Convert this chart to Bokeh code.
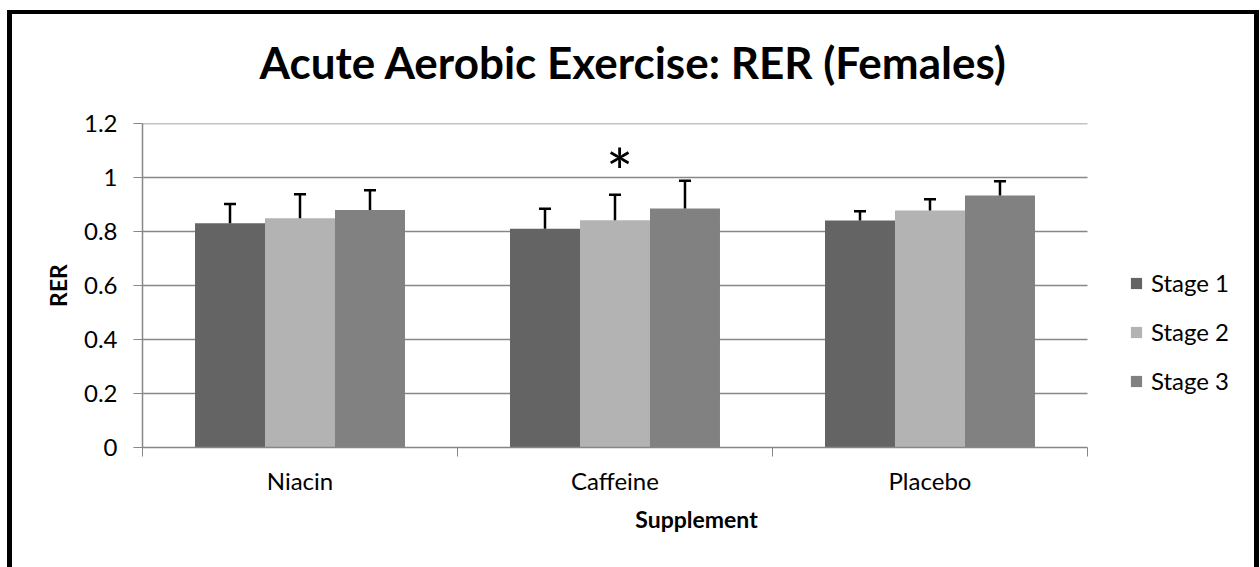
from bokeh.plotting import figure
from bokeh.models import (ColumnDataSource, FixedTicker, CustomJSTickFormatter, Legend, LegendItem,
                          Whisker, TeeHead, Title, Range1d)
from bokeh.core.properties import value
from bokeh.embed import file_html
from bokeh.resources import INLINE

# ---- data ----
supplements = ["Niacin", "Caffeine", "Placebo"]
stages = ["Stage 1", "Stage 2", "Stage 3"]
stage1 = [0.831, 0.810, 0.841]
stage2 = [0.849, 0.842, 0.878]
stage3 = [0.880, 0.885, 0.933]
err1 = [0.071, 0.074, 0.034]
err2 = [0.089, 0.094, 0.041]
err3 = [0.073, 0.103, 0.053]
colors = ["#646464", "#b3b3b3", "#818181"]
significant = ["Caffeine"]
y_ticks = [0, 0.2, 0.4, 0.6, 0.8, 1.0, 1.2]

FONT = "Lato"
GRAY = "#878787"
n = len(supplements)
x_end = 3.5175  # frame extends right so the legend fits inside it

p = figure(width=1260, height=567, output_backend="svg", toolbar_location=None,
           x_range=Range1d(0, x_end), y_range=Range1d(0, 1.2),
           min_border_left=142, min_border_right=10, min_border_top=123, min_border_bottom=120,
           tools="")
p.outline_line_color = None
p.background_fill_color = "white"
p.border_fill_color = None
p.styles = {
    "background-color": "white",
    "background-image": "linear-gradient(#000,#000), linear-gradient(#000,#000), linear-gradient(#000,#000)",
    "background-size": "5px 600px, 1252px 4px, 5px 600px",
    "background-position": "7px 10px, 7px 10px, 1254px 10px",
    "background-repeat": "no-repeat",
}

# horizontal gridlines limited to the category span
grid_y = y_ticks[1:]
p.segment(x0=[0] * len(grid_y), x1=[n] * len(grid_y), y0=grid_y, y1=grid_y,
          line_color=GRAY, line_width=1.5, level="underlay")

bar_w = 0.2222
series = [stage1, stage2, stage3]
errs = [err1, err2, err3]
renderers = []
for k, (vals, er) in enumerate(zip(series, errs)):
    xs = [i + 0.5 + (k - 1) * bar_w for i in range(n)]
    src = ColumnDataSource(dict(x=xs, top=vals, upper=[v + e for v, e in zip(vals, er)]))
    r = p.vbar(x="x", top="top", width=bar_w, bottom=0, source=src,
               fill_color=colors[k], line_color=None)
    renderers.append(r)
    w = Whisker(base="x", lower="top", upper="upper", source=src, dimension="height",
                line_color="black", line_width=2.5, lower_head=None,
                upper_head=TeeHead(size=12, line_color="black", line_width=2.5),
                level="annotation")
    p.add_layout(w)

# significance asterisk
for s in significant:
    i = supplements.index(s)
    top = max(v + e for v, e in zip([a[i] for a in series], [b[i] for b in errs]))
    p.text(x=[i + 0.515], y=[top + 0.035], text=["*"], text_align="center",
           text_baseline="middle", text_font=value(FONT), text_font_size="64px",
           text_color="black")

# axes
xa = p.xaxis[0]
xa.bounds = (0, n)
xa.ticker = FixedTicker(ticks=[i + 0.5 for i in range(n)], minor_ticks=list(range(n + 1)))
xa.formatter = CustomJSTickFormatter(args=dict(names=supplements),
                                     code="return names[Math.floor(tick)];")
xa.major_tick_out = 0
xa.major_tick_in = 0
xa.minor_tick_out = 9
xa.minor_tick_in = 0
xa.minor_tick_line_color = GRAY
xa.axis_line_color = GRAY
xa.axis_line_width = 1.5
xa.major_label_standoff = 9
xa.major_label_text_font = FONT
xa.major_label_text_font_size = "24px"
xa.major_label_text_color = "black"
xa.axis_label = "Supplement"
xa.axis_label_text_font = FONT
xa.axis_label_text_font_style = "bold"
xa.axis_label_text_font_size = "23px"
xa.axis_label_text_color = "black"
xa.axis_label_standoff = 7

ya = p.yaxis[0]
ya.ticker = FixedTicker(ticks=y_ticks, minor_ticks=[])
ya.formatter = CustomJSTickFormatter(code="return String(Math.round(tick*10)/10);")
ya.major_tick_out = 9
ya.major_tick_in = 0
ya.major_tick_line_color = GRAY
ya.axis_line_color = GRAY
ya.axis_line_width = 1.5
ya.major_label_standoff = 16
ya.major_label_text_font = FONT
ya.major_label_text_font_size = "24px"
ya.major_label_text_color = "black"
ya.axis_label = "RER"
ya.axis_label_text_font = FONT
ya.axis_label_text_font_style = "bold"
ya.axis_label_text_font_size = "23px"
ya.axis_label_text_color = "black"
ya.axis_label_standoff = 9

p.xgrid.visible = False
p.ygrid.visible = False

# title
p.title = Title(text="Acute Aerobic Exercise: RER (Females)", align="left",
                vertical_align="top",
                text_font=FONT, text_font_style="bold", text_font_size="44px",
                text_color="black", standoff=68, offset=117)

# legend
legend = Legend(items=[LegendItem(label=s, renderers=[r]) for s, r in zip(stages, renderers)],
                location=(987, 52), orientation="vertical",
                glyph_width=14, glyph_height=14, label_height=28, spacing=20,
                label_standoff=8, padding=0, margin=0,
                label_text_font=FONT, label_text_font_size="24px", label_text_color="black",
                border_line_color=None, background_fill_alpha=0)
p.add_layout(legend, "center")

open("out.html", "w").write(file_html(p, INLINE))
